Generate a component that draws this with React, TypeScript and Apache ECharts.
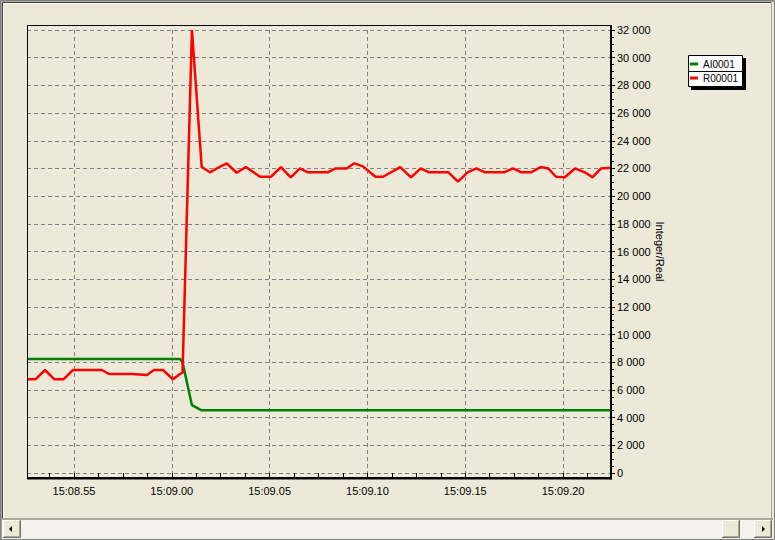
import React, { useEffect, useRef } from "react";
import * as echarts from "echarts";

const FONT = "'Liberation Sans', Arial, sans-serif";

// seconds after 15:08:00
const sampleSeconds = [
  52.6, 53.03, 53.52, 54.0, 54.46, 54.95, 56.43, 56.79, 57.97, 58.73,
  59.09, 59.55, 60.06, 60.42, 60.55, 61.03, 61.53, 61.95, 62.36, 62.81,
  63.32, 63.79, 64.51, 65.07, 65.58, 66.08, 66.55, 66.95, 67.97, 68.38,
  68.94, 69.33, 69.77, 70.41, 70.8, 71.68, 72.23, 72.72, 73.15, 74.14,
  74.63, 75.12, 75.57, 76.0, 76.98, 77.44, 77.87, 78.36, 78.85, 79.24,
  79.64, 80.09, 80.61, 81.11, 81.5, 81.94, 82.45,
];

const ai0001 = [
  8230, 8230, 8230, 8230, 8230, 8230, 8230, 8230, 8230, 8230,
  8230, 8230, 8230, 8230, 8000, 4900, 4530, 4530, 4530, 4530,
  4530, 4530, 4530, 4530, 4530, 4530, 4530, 4530, 4530, 4530,
  4530, 4530, 4530, 4530, 4530, 4530, 4530, 4530, 4530, 4530,
  4530, 4530, 4530, 4530, 4530, 4530, 4530, 4530, 4530, 4530,
  4530, 4530, 4530, 4530, 4530, 4530, 4530,
];

const r00001 = [
  6770, 6770, 7440, 6770, 6770, 7440, 7440, 7150, 7150, 7080,
  7440, 7440, 6770, 7150, 7250, 32000, 22100, 21720, 22050, 22370,
  21690, 22100, 21400, 21400, 22100, 21360, 22000, 21720, 21720, 22000,
  22000, 22370, 22150, 21400, 21400, 22100, 21360, 22000, 21720, 21720,
  21040, 21720, 22000, 21720, 21720, 22000, 21720, 21720, 22100, 22000,
  21400, 21360, 22000, 21720, 21360, 22000, 22050,
];

const seriesNames = ["AI0001", "R00001"];
const seriesColors = ["#008000", "#ff0000"];

const xMin = 52.6;
const xMax = 82.45;
const xLabelValues = [55, 60, 65, 70, 75, 80];
const xTickValues = [53.75, 55, 56.25, 57.5, 58.75, 60, 61.25, 62.5, 63.75, 65, 66.25, 67.5, 68.75, 70, 71.25, 72.5, 73.75, 75, 76.25, 77.5, 78.75, 80, 81.25];
const yMin = 0;
const yMax = 32000;
const yInterval = 2000;
const yAxisName = "Integer/Real";

function fmtTime(v: number): string {
  const m = Math.floor(v / 60);
  const s = Math.round(v - m * 60);
  return `15:${String(8 + m).padStart(2, "0")}.${String(s).padStart(2, "0")}`;
}

function fmtNum(v: number): string {
  return String(v).replace(/\B(?=(\d{3})+(?!\d))/g, " ");
}

export default function App() {
  const ref = useRef<HTMLDivElement>(null);
  useEffect(() => {
    if (!ref.current) return;
    const chart = echarts.init(ref.current, null, { renderer: "svg" });
    const dash = { color: "#808080", width: 1, type: [4, 3] as any };
    const bevel = (x: number, y: number, w: number, h: number, z: number) => [
      { type: "rect", z, shape: { x, y, width: w, height: h }, style: { fill: "#ECE9D8" } },
      { type: "polyline", z, shape: { points: [[x + 0.5, y + h], [x + 0.5, y + 0.5], [x + w, y + 0.5]] }, style: { stroke: "#ffffff", fill: "none", lineWidth: 1 } },
      { type: "polyline", z, shape: { points: [[x, y + h - 0.5], [x + w - 0.5, y + h - 0.5], [x + w - 0.5, y]] }, style: { stroke: "#716F64", fill: "none", lineWidth: 1 } },
      { type: "polyline", z, shape: { points: [[x + 1, y + h - 1.5], [x + w - 1.5, y + h - 1.5], [x + w - 1.5, y + 1]] }, style: { stroke: "#ACA899", fill: "none", lineWidth: 1 } },
    ];
    const option: any = {
      animation: false,
      backgroundColor: "#ECE9D8",
      textStyle: { fontFamily: FONT },
      grid: { left: 27, right: 164, top: 30, bottom: 67, containLabel: false },
      legend: {
        orient: "vertical",
        left: 690,
        top: 59,
        itemWidth: 8,
        itemHeight: 3,
        itemGap: 4,
        padding: 0,
        icon: "rect",
        data: seriesNames,
        textStyle: { fontFamily: FONT, fontSize: 10, color: "#000" },
      },
      xAxis: [
        {
          type: "value",
          min: xMin,
          max: xMax,
          offset: 5,
          axisLine: { show: false },
          axisTick: { show: true, length: 4, customValues: xTickValues, lineStyle: { color: "#000" } },
          axisLabel: {
            customValues: xLabelValues,
            formatter: fmtTime,
            margin: 7,
            fontSize: 11,
            fontFamily: FONT,
            color: "#000",
          },
          splitLine: { show: false },
        },
        {
          type: "value",
          min: xMin,
          max: xMax,
          axisLine: { show: false },
          axisTick: { show: false, customValues: xLabelValues },
          axisLabel: { show: false, customValues: xLabelValues },
          splitLine: { show: true, lineStyle: dash },
        },
      ],
      yAxis: {
        type: "value",
        position: "right",
        min: yMin,
        max: yMax,
        interval: yInterval,
        name: yAxisName,
        nameLocation: "middle",
        nameRotate: -90,
        nameGap: 43,
        nameMoveOverlap: false,
        nameTextStyle: { fontFamily: FONT, fontSize: 11, color: "#000" },
        axisLine: { show: false },
        axisTick: { show: true, length: 4, lineStyle: { color: "#000" } },
        minorTick: { show: true, splitNumber: 4, length: 3, lineStyle: { color: "#000" } },
        axisLabel: { formatter: fmtNum, margin: 6, fontSize: 11, fontFamily: FONT, color: "#000" },
        splitLine: { show: true, lineStyle: dash },
      },
      series: [
        {
          name: seriesNames[0],
          type: "line",
          xAxisIndex: 0,
          data: sampleSeconds.map((t, i) => [t, ai0001[i]]),
          showSymbol: false,
          symbol: "none",
          clip: false,
          color: seriesColors[0],
          lineStyle: { color: seriesColors[0], width: 2.5 },
        },
        {
          name: seriesNames[1],
          type: "line",
          xAxisIndex: 0,
          data: sampleSeconds.map((t, i) => [t, r00001[i]]),
          showSymbol: false,
          symbol: "none",
          clip: false,
          color: seriesColors[1],
          lineStyle: { color: seriesColors[1], width: 2.5 },
        },
      ],
      graphic: {
        elements: [
          // plot frame
          { type: "rect", z: 10, silent: true, shape: { x: 27.5, y: 25.5, width: 583, height: 452 }, style: { fill: "none", stroke: "#000", lineWidth: 1 } },
          { type: "line", z: 10, silent: true, shape: { x1: 27, y1: 478.5, x2: 612, y2: 478.5 }, style: { stroke: "#000", lineWidth: 2 } },
          { type: "line", z: 10, silent: true, shape: { x1: 611, y1: 25, x2: 611, y2: 479.5 }, style: { stroke: "#000", lineWidth: 2 } },
          // legend box
          { type: "rect", z: 1, silent: true, shape: { x: 691, y: 58, width: 55, height: 32 }, style: { fill: "#000" } },
          { type: "rect", z: 1, silent: true, shape: { x: 688.5, y: 55.5, width: 54, height: 31 }, style: { fill: "#fff", stroke: "#000", lineWidth: 1 } },
          { type: "line", z: 1, silent: true, shape: { x1: 688, y1: 71.5, x2: 743, y2: 71.5 }, style: { stroke: "#000", lineWidth: 1 } },
          // window border
          { type: "rect", z: 20, silent: true, shape: { x: 0.5, y: 0.5, width: 774, height: 539 }, style: { fill: "none", stroke: "#808080", lineWidth: 1 } },
          { type: "polyline", z: 20, silent: true, shape: { points: [[1.5, 539], [1.5, 1.5], [774, 1.5]] }, style: { stroke: "#ACA899", fill: "none", lineWidth: 1 } },
          { type: "polyline", z: 20, silent: true, shape: { points: [[2.5, 518], [2.5, 2.5], [772, 2.5]] }, style: { stroke: "#404040", fill: "none", lineWidth: 1 } },
          { type: "polyline", z: 20, silent: true, shape: { points: [[3.5, 518], [3.5, 3.5], [771, 3.5]] }, style: { stroke: "#ffffff", fill: "none", lineWidth: 1 } },
          { type: "line", z: 20, silent: true, shape: { x1: 771.5, y1: 2, x2: 771.5, y2: 519 }, style: { stroke: "#ACA899", lineWidth: 1 } },
          // scrollbar
          { type: "rect", z: 20, silent: true, shape: { x: 2, y: 519, width: 771, height: 20 }, style: { fill: "#F3F2EC" } },
          { type: "line", z: 20, silent: true, shape: { x1: 2, y1: 519, x2: 773, y2: 519 }, style: { stroke: "#ACA899", lineWidth: 2 } },
          ...bevel(3, 520, 18, 18, 21),
          ...bevel(722, 520, 18, 18, 21),
          ...bevel(754, 520, 18, 18, 21),
          { type: "polygon", z: 22, silent: true, shape: { points: [[9, 529], [12, 526], [12, 532]] }, style: { fill: "#000" } },
          { type: "polygon", z: 22, silent: true, shape: { points: [[765, 529], [762, 526], [762, 532]] }, style: { fill: "#000" } },
        ],
      },
    };
    chart.setOption(option);
    return () => chart.dispose();
  }, []);
  return (
    <div
      ref={ref}
      style={{ position: "fixed", left: 0, top: 0, width: 775, height: 540 }}
    />
  );
}
